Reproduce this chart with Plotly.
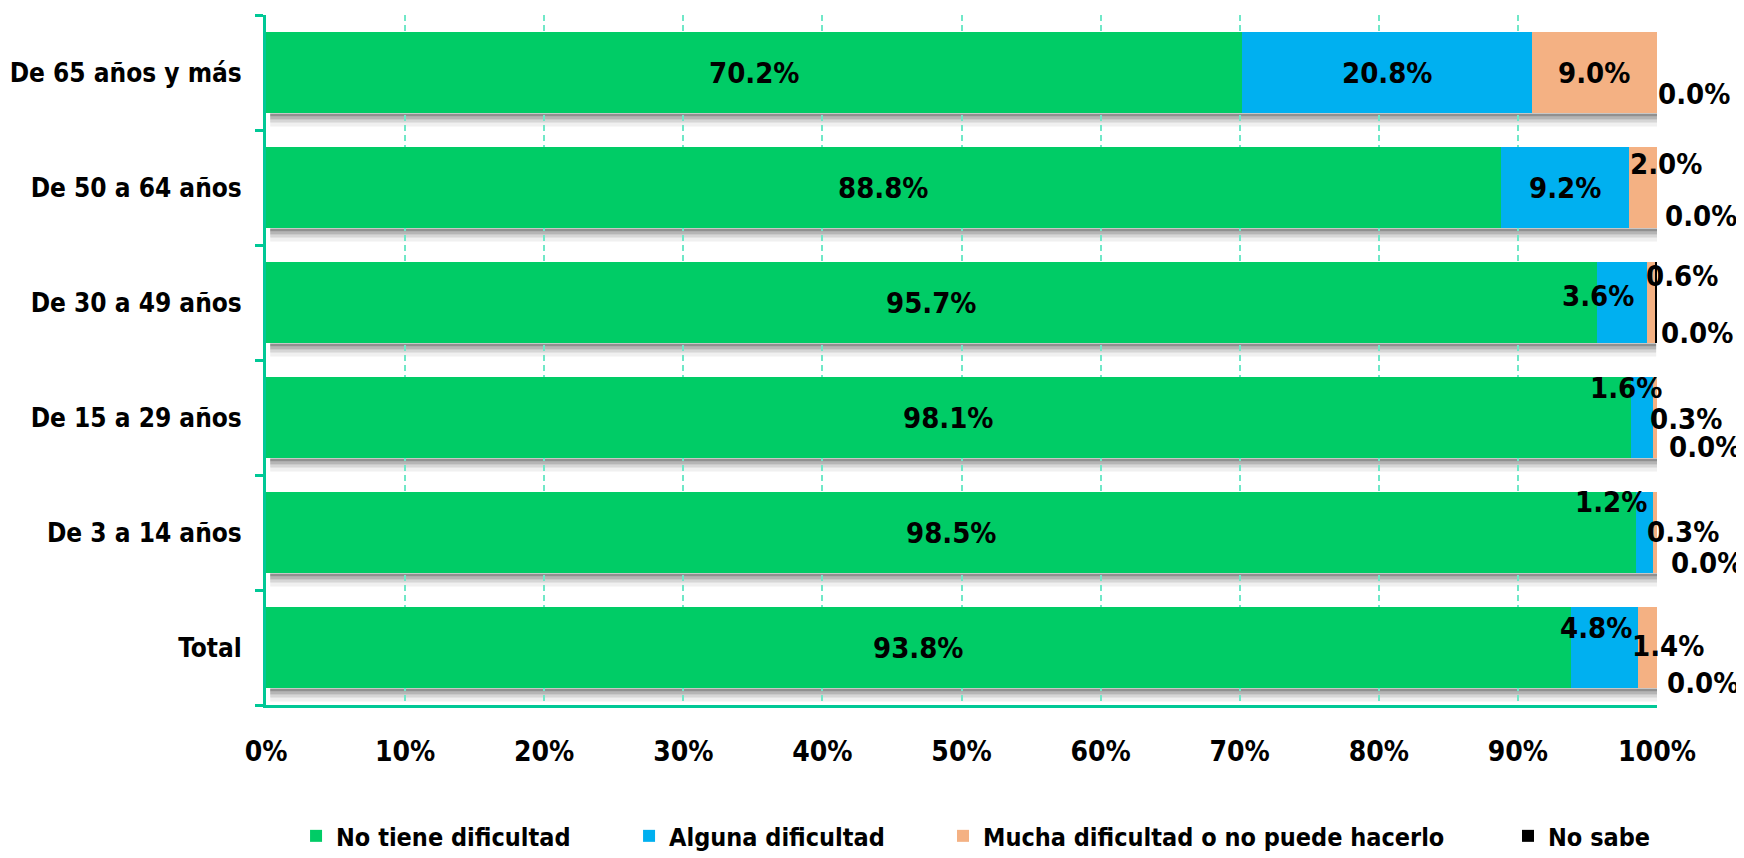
import plotly.graph_objects as go

categories = ["Total", "De 3 a 14 años", "De 15 a 29 años", "De 30 a 49 años",
              "De 50 a 64 años", "De 65 años y más"]
series_names = ["No tiene dificultad", "Alguna dificultad",
                "Mucha dificultad o no puede hacerlo", "No sabe"]
no_tiene = [93.8, 98.5, 98.1, 95.7, 88.8, 70.2]
alguna = [4.8, 1.2, 1.6, 3.6, 9.2, 20.8]
mucha = [1.4, 0.3, 0.3, 0.6, 2.0, 9.0]
no_sabe = [0.04, 0.04, 0.04, 0.04, 0.04, 0.04]
x_ticks = [0, 10, 20, 30, 40, 50, 60, 70, 80, 90, 100]
x_tick_labels = ["0%", "10%", "20%", "30%", "40%", "50%", "60%", "70%", "80%", "90%", "100%"]

colors = ["#00CC66", "#00B0F0", "#F4B183", "#000000"]
FONT = "DejaVu Sans Condensed, DejaVu Sans, sans-serif"
AXIS_COLOR = "#00C896"

# label pixel offsets (xshift, yshift) per series per category; style only
label_offsets = {
    1: {0: (-8, 20), 1: (-33, 31), 2: (-16, 30), 3: (-24, 7)},
    2: {0: (21, 2), 1: (28, 1), 2: (31, -1), 3: (31, 27), 4: (23, 24)},
    3: {0: (46, -35), 1: (50, -30), 2: (48, -29), 3: (40, -30), 4: (44, -28), 5: (37, -21)},
}
# legend left edges (paper fraction)
legend_x = [0.0216, 0.261, 0.4867, 0.8929]

series = [no_tiene, alguna, mucha, no_sabe]
legend_ids = ["legend", "legend2", "legend3", "legend4"]

fig = go.Figure()
for name, vals, col, lid in zip(series_names, series, colors, legend_ids):
    fig.add_trace(go.Bar(
        y=categories, x=vals, name=name, orientation="h",
        marker=dict(color=col, line=dict(width=0)),
        legend=lid, showlegend=True,
    ))

annotations = []
shapes = []
for ci, cat in enumerate(categories):
    cum = 0.0
    for si, vals in enumerate(series):
        v = vals[ci]
        center = cum + v / 2.0
        cum += v
        dx, dy = label_offsets.get(si, {}).get(ci, (0, 0))
        xpos = 100.0 if si == 3 else center
        annotations.append(dict(
            x=xpos, y=cat, xref="x", yref="y", text="%.1f%%" % v,
            showarrow=False, xshift=dx, yshift=dy,
            font=dict(family=FONT, size=29, color="black", weight="bold"),
        ))
    total = min(cum, 100.0)
    for (a, b, op) in [(-41, -44, 0.6), (-44, -47, 0.4), (-47, -50, 0.22), (-50, -54, 0.08)]:
        shapes.append(dict(
            type="rect", xref="x", yref="y", x0=0.3, x1=total,
            ysizemode="pixel", yanchor=cat, y0=a, y1=b,
            fillcolor="rgba(70,70,70,%.2f)" % op, line=dict(width=0), layer="below",
        ))

legend_common = dict(
    orientation="h", xanchor="left",
    y=-0.19, yanchor="middle", bgcolor="rgba(0,0,0,0)",
    font=dict(family=FONT, size=25, color="black", weight="bold"),
    itemwidth=30,
)

fig.update_layout(
    barmode="stack",
    bargap=0.29,
    showlegend=True,
    width=1744, height=858,
    margin=dict(l=258, r=95, t=7, b=156),
    paper_bgcolor="white", plot_bgcolor="white",
    font=dict(family=FONT, size=28, color="black", weight="bold"),
    annotations=annotations,
    shapes=shapes,
    legend=dict(x=legend_x[0], **legend_common),
    legend2=dict(x=legend_x[1], **legend_common),
    legend3=dict(x=legend_x[2], **legend_common),
    legend4=dict(x=legend_x[3], **legend_common),
    xaxis=dict(
        range=[0, 100], tickvals=x_ticks, ticktext=x_tick_labels, automargin=False,
        showgrid=True, gridcolor="#70E8C8", griddash="6px,4px", gridwidth=1.5,
        zeroline=False, showline=True, linecolor=AXIS_COLOR, linewidth=3,
        ticks="", ticklabelstandoff=19,
        tickfont=dict(family=FONT, size=28, color="black", weight="bold"),
    ),
    yaxis=dict(
        categoryorder="array", categoryarray=categories, automargin=False,
        showgrid=False, zeroline=False, showline=True, linecolor=AXIS_COLOR, linewidth=3,
        ticks="outside", tickson="boundaries", ticklen=8, tickwidth=3, tickcolor=AXIS_COLOR,
        ticklabelstandoff=16,
        tickfont=dict(family=FONT, size=26, color="black", weight="bold"),
    ),
)

fig.write_html("out.html")
